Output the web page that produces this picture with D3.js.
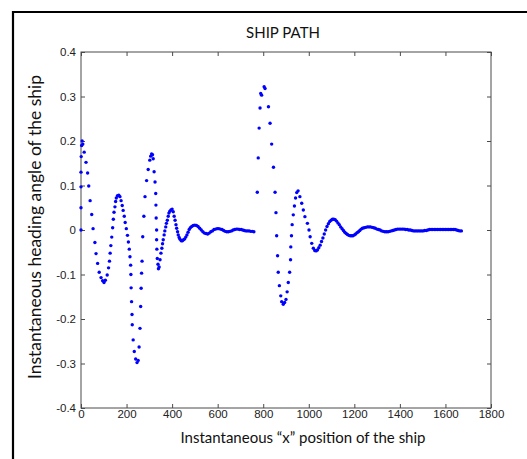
<!DOCTYPE html>
<html>
<head>
<meta charset="utf-8">
<script src="https://cdn.jsdelivr.net/npm/d3@7"></script>
<style>
  body { margin: 0; background: #fff; }
  svg { display: block; }
</style>
</head>
<body>
<script>
// ship path - heading angle vs x position
var width = 410;
var height = 356;
var margin = {top: 52, right: 36, bottom: 51, left: 81};

var xTicks = [0, 200, 400, 600, 800, 1000, 1200, 1400, 1600, 1800];
var xTickLabels = ["0", "200", "400", "600", "800", "1000", "1200", "1400", "1600", "1800"];
var yTicks = [-0.4, -0.3, -0.2, -0.1, 0, 0.1, 0.2, 0.3, 0.4];
var yTickLabels = ["-0.4", "-0.3", "-0.2", "-0.1", "0", "0.1", "0.2", "0.3", "0.4"];

// first run of the ship: [x position, heading angle]
var runA = [
	[0,0],[0,0.05],[0,0.097],[0,0.13],[1,0.165],[3,0.19],[5,0.2],[8,0.193],[14,0.175],[22,0.152],
	[29,0.128],[34,0.099],[40,0.066],[47,0.035],[53,0.003],[61,-0.028],[66,-0.053],[73,-0.075],[80,-0.095],[88,-0.107],
	[95,-0.114],[101,-0.118],[107,-0.113],[115,-0.101],[121,-0.085],[125,-0.07],[128,-0.052],[131,-0.035],[135,-0.016],[139,0.005],
	[142,0.024],[145,0.04],[149,0.052],[152,0.064],[155,0.072],[160,0.077],[166,0.078],[171,0.075],[176,0.066],[181,0.055],
	[185,0.044],[190,0.031],[194,0.017],[199,0.003],[204,-0.012],[208,-0.027],[212,-0.043],[215,-0.06],[218,-0.079],[219,-0.1],
	[220,-0.13],[222,-0.161],[224,-0.19],[225,-0.213],[229,-0.247],[234,-0.273],[240,-0.29],[246,-0.298],[251,-0.293],[255,-0.263],
	[259,-0.221],[262,-0.172],[264,-0.131],[266,-0.097],[268,-0.07],[271,-0.015],[276,0.031],[281,0.075],[288,0.111],[295,0.136],
	[302,0.157],[306,0.166],[310,0.171],[314,0.169],[317,0.16],[321,0.131],[325,0.108],[328,0.082],[329,0.056],[330,0.027],
	[332,0],[332,-0.022],[333,-0.043],[335,-0.064],[338,-0.077],[340,-0.087],[343,-0.083],[347,-0.067],[351,-0.052],[355,-0.041],
	[358,-0.031],[361,-0.022],[365,-0.011],[368,-0.002],[372,0.007],[375,0.015],[379,0.022],[383,0.031],[386,0.038],[390,0.042],
	[395,0.045],[400,0.047],[405,0.041],[409,0.031],[413,0.022],[417,0.012],[420,0.004],[424,-0.004],[427,-0.011],[431,-0.017],
	[435,-0.021],[440,-0.024],[445,-0.024],[450,-0.022],[455,-0.02],[460,-0.016],[465,-0.011],[470,-0.005],[475,0.001],[480,0.005],
	[486,0.008],[493,0.01],[500,0.011],[507,0.01],[514,0.008],[521,0.004],[528,0],[535,-0.004],[542,-0.007],[549,-0.008],
	[556,-0.009],[563,-0.007],[570,-0.004],[577,-0.002],[584,0.001],[591,0.002],[598,0.003],[605,0.003],[612,0.002],[619,0.001],
	[626,-0.001],[633,-0.003],[640,-0.004],[647,-0.004],[654,-0.003],[661,-0.002],[668,0],[675,0.001],[682,0.002],[689,0.002],
	[696,0.001],[703,0.001],[710,0],[717,-0.001],[724,-0.002],[731,-0.002],[738,-0.002],[745,-0.003],[752,-0.003],[759,-0.004]
];

// second run of the ship
var runB = [
	[774,0.085],[778,0.162],[782,0.229],[786,0.274],[789,0.307],[793,0.303],[804,0.322],[808,0.318],[823,0.277],[830,0.24],
	[837,0.193],[845,0.141],[852,0.085],[856,0.039],[859,-0.013],[863,-0.058],[866,-0.095],[871,-0.125],[877,-0.148],[881,-0.161],
	[888,-0.167],[894,-0.163],[900,-0.156],[905,-0.139],[910,-0.118],[916,-0.095],[920,-0.067],[921,-0.038],[924,-0.013],[927,0.012],
	[932,0.034],[937,0.054],[942,0.072],[947,0.084],[953,0.088],[961,0.075],[969,0.06],[976,0.045],[983,0.03],[994,0.015],
	[1001,0],[1006,-0.015],[1013,-0.03],[1020,-0.041],[1026,-0.046],[1032,-0.047],[1038,-0.045],[1044,-0.04],[1050,-0.034],[1056,-0.026],
	[1062,-0.018],[1068,-0.009],[1074,0],[1080,0.008],[1086,0.014],[1092,0.019],[1098,0.022],[1104,0.024],[1110,0.024],[1116,0.023],
	[1122,0.02],[1128,0.016],[1134,0.012],[1140,0.007],[1146,0.003],[1152,-0.001],[1158,-0.005],[1164,-0.008],[1170,-0.01],[1176,-0.012],
	[1182,-0.013],[1188,-0.013],[1194,-0.013],[1200,-0.011],[1206,-0.009],[1212,-0.006],[1218,-0.004],[1224,-0.001],[1230,0.002],[1236,0.004],
	[1243,0.005],[1250,0.006],[1257,0.007],[1264,0.007],[1271,0.007],[1278,0.006],[1285,0.005],[1292,0.004],[1299,0.002],[1306,0.001],
	[1313,0],[1320,-0.002],[1327,-0.003],[1334,-0.004],[1341,-0.004],[1348,-0.004],[1355,-0.003],[1362,-0.002],[1369,-0.001],[1376,0],
	[1383,0.001],[1390,0.002],[1397,0.002],[1404,0.002],[1411,0.002],[1418,0.002],[1425,0.001],[1432,0.001],[1439,0],[1446,0],
	[1453,-0.001],[1460,-0.002],[1467,-0.002],[1474,-0.002],[1481,-0.002],[1488,-0.002],[1495,-0.002],[1502,-0.002],[1509,-0.001],[1516,-0.001],
	[1523,0],[1530,0.001],[1537,0.001],[1544,0.001],[1551,0.001],[1558,0.001],[1565,0.001],[1572,0.001],[1579,0.001],[1586,0.001],
	[1593,0.001],[1600,0.001],[1607,0.001],[1614,0.001],[1621,0.001],[1628,0.001],[1635,0.001],[1642,0.001],[1649,0],[1656,-0.001],
	[1663,-0.002],[1670,-0.002]
];

var svg = d3.select("body")
	.append("svg")
		.attr("width", 527)
		.attr("height", 459);

svg.append("rect")
	.attr("width", 527)
	.attr("height", 459)
	.attr("fill", "#fff");

// outer black frame (only top & left visible)
svg.append("path")
	.attr("d", "M13,459 V12 H527")
	.attr("fill", "none")
	.attr("stroke", "#000")
	.attr("stroke-width", 2.2);

var g = svg.append("g")
	.attr("transform", "translate(" + margin.left + ", " + margin.top + ")");

var x = d3.scaleLinear().domain([0, 1800]).range([0, width]);
var y = d3.scaleLinear().domain([-0.4, 0.4]).range([height, 0]);

var axisColor = "#4a4a4a";

function styleAxis(sel) {
	sel.select(".domain").remove();
	sel.selectAll(".tick line").attr("stroke", axisColor);
	sel.selectAll("text")
		.attr("fill", "#222")
		.style("font-family", "'Liberation Sans', Arial, sans-serif")
		.style("font-size", "11.5px");
}

g.append("g")
	.attr("transform", "translate(0, " + height + ")")
	.call(d3.axisBottom(x).tickValues(xTicks).tickSize(-4).tickPadding(2)
		.tickFormat((d, i) => xTickLabels[i]))
	.call(styleAxis);

g.append("g")
	.call(d3.axisTop(x).tickValues(xTicks).tickSize(-4).tickFormat(""))
	.call(styleAxis);

g.append("g")
	.call(d3.axisLeft(y).tickValues(yTicks).tickSize(-4).tickPadding(5)
		.tickFormat((d, i) => yTickLabels[i]))
	.call(styleAxis);

g.append("g")
	.attr("transform", "translate(" + width + ", 0)")
	.call(d3.axisRight(y).tickValues(yTicks).tickSize(-4).tickFormat(""))
	.call(styleAxis);

g.append("rect")
	.attr("width", width)
	.attr("height", height)
	.attr("fill", "none")
	.attr("stroke", axisColor)
	.attr("stroke-width", 1);

var points = runA.concat(runB);

g.selectAll("circle.pt")
	.data(points)
	.enter()
	.append("circle")
		.attr("class", "pt")
		.attr("cx", (d) => x(d[0]))
		.attr("cy", (d) => y(d[1]))
		.attr("r", 1.7)
		.attr("fill", "#0000ff");

svg.append("text")
	.attr("x", 283)
	.attr("y", 38)
	.attr("text-anchor", "middle")
	.style("font-family", "Lato, sans-serif")
	.style("font-size", "15px")
	.style("fill", "#111")
	.text("SHIP PATH");

svg.append("text")
	.attr("x", 303)
	.attr("y", 443)
	.attr("text-anchor", "middle")
	.style("font-family", "Lato, sans-serif")
	.style("font-size", "15px")
	.style("fill", "#111")
	.text("Instantaneous \u201cx\u201d position of the ship");

svg.append("text")
	.attr("transform", "translate(41, 227) rotate(-90)")
	.attr("text-anchor", "middle")
	.style("font-family", "Lato, sans-serif")
	.style("font-size", "17.5px")
	.style("fill", "#111")
	.text("Instantaneous heading angle of the ship");
</script>
</body>
</html>
